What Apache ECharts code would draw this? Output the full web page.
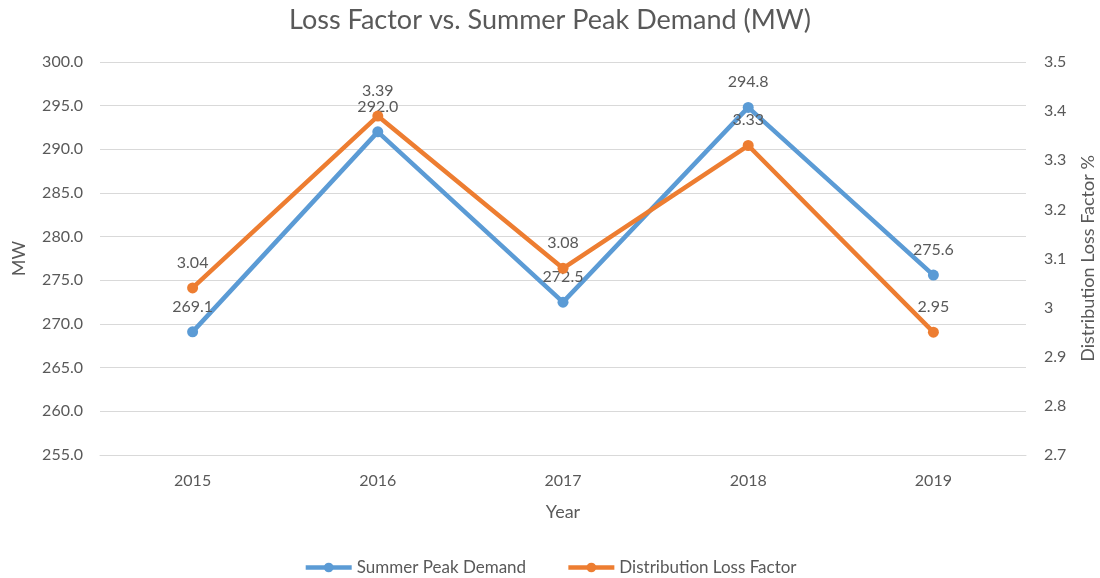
<!DOCTYPE html>
<html>
<head>
<meta charset="utf-8">
<script src="https://cdn.jsdelivr.net/npm/echarts@6/dist/echarts.min.js"></script>
<style>
html, body { margin: 0; padding: 0; background: #ffffff; }
#lossChart { width: 1100px; height: 578px; }
</style>
</head>
<body>
<div id="lossChart"></div>
<script>
const years = ['2015', '2016', '2017', '2018', '2019'];
const peakDemand = [269.1, 292.0, 272.5, 294.8, 275.6];
const lossFactor = [3.04, 3.39, 3.08, 3.33, 2.95];

const textColor = '#595959';
const fontName = 'Lato';

let chart = echarts.init(document.getElementById('lossChart'));

let options = {
    backgroundColor: '#ffffff',
    textStyle: { fontFamily: fontName },
    title: {
        text: 'Loss Factor vs. Summer Peak Demand (MW)',
        left: 'center',
        top: 2,
        textStyle: { fontFamily: fontName, fontSize: 27, fontWeight: 'normal', color: textColor }
    },
    legend: {
        top: 554,
        left: 'center',
        itemWidth: 46,
        itemHeight: 12,
        itemGap: 40,
        lineStyle: { width: 4.5 },
        textStyle: { fontFamily: fontName, fontSize: 17, color: textColor },
        data: ['Summer Peak Demand', 'Distribution Loss Factor']
    },
    grid: {
        left: 100,
        right: 74,
        top: 62,
        bottom: 123,
        outerBoundsMode: 'none'
    },
    xAxis: {
        type: 'category',
        data: years,
        name: 'Year',
        nameLocation: 'middle',
        nameGap: 48,
        nameTextStyle: { fontFamily: fontName, fontSize: 18, color: textColor },
        axisLine: { lineStyle: { color: '#d9d9d9', width: 1 } },
        axisTick: { show: false },
        axisLabel: { fontSize: 16, color: textColor, margin: 18 }
    },
    yAxis: [
        {
            type: 'value',
            min: 255,
            max: 300,
            interval: 5,
            name: 'MW',
            nameLocation: 'middle',
            nameGap: 72,
            nameTextStyle: { fontFamily: fontName, fontSize: 18, color: textColor },
            axisLine: { show: false },
            axisTick: { show: false },
            axisLabel: {
                fontSize: 16, color: textColor, margin: 17,
                formatter: v => v.toFixed(1)
            },
            splitLine: { lineStyle: { color: '#d9d9d9', width: 1 } }
        },
        {
            type: 'value',
            min: 2.7,
            max: 3.5,
            interval: 0.1,
            name: 'Distribution Loss Factor %',
            nameLocation: 'middle',
            nameGap: 53,
            nameRotate: 90,
            nameTextStyle: { fontFamily: fontName, fontSize: 18, color: textColor },
            axisLine: { show: false },
            axisTick: { show: false },
            axisLabel: {
                fontSize: 16, color: textColor, margin: 18,
                formatter: v => String(parseFloat(v.toFixed(1)))
            },
            splitLine: { show: false }
        }
    ],
    series: [
        {
            name: 'Summer Peak Demand',
            type: 'line',
            yAxisIndex: 0,
            data: peakDemand,
            symbol: 'circle',
            symbolSize: 11,
            color: '#5b9bd5',
            lineStyle: { width: 4.5, color: '#5b9bd5' },
            label: {
                show: true,
                position: 'top',
                distance: 12,
                fontSize: 16,
                color: textColor,
                formatter: p => p.value.toFixed(1)
            },
            z: 2
        },
        {
            name: 'Distribution Loss Factor',
            type: 'line',
            yAxisIndex: 1,
            data: lossFactor,
            symbol: 'circle',
            symbolSize: 11,
            color: '#ed7d31',
            lineStyle: { width: 4.5, color: '#ed7d31' },
            label: {
                show: true,
                position: 'top',
                distance: 12,
                fontSize: 16,
                color: textColor,
                formatter: p => p.value.toFixed(2)
            },
            z: 3
        }
    ]
};

chart.setOption(options);
</script>
</body>
</html>
